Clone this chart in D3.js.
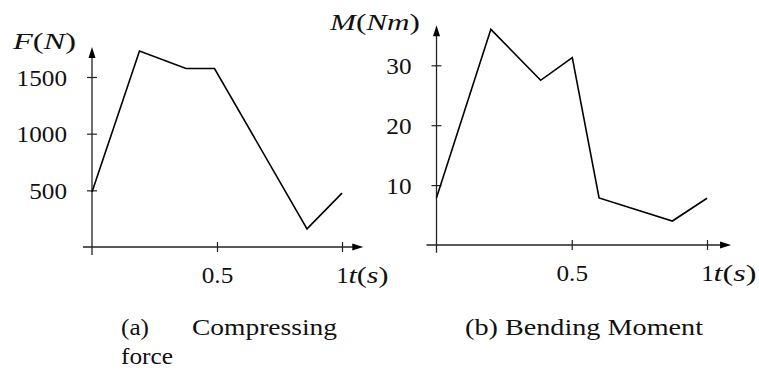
<!DOCTYPE html>
<html>
<head>
<meta charset="utf-8">
<script src="https://cdn.jsdelivr.net/npm/d3@7"></script>
<style>
  body { margin: 0; background: #fff; }
  text { font-family: "Liberation Serif", "Times New Roman", serif; font-size: 24px; fill: #111; }
</style>
</head>
<body>
<div id="chart"></div>
<script>
// data
var forceTime = [0, 0.19, 0.376, 0.49, 0.86, 1.0];
var forceValue = [485, 1730, 1575, 1575, 160, 475];
var momentTime = [0, 0.201, 0.385, 0.502, 0.601, 0.872, 1.0];
var momentValue = [7.9, 36.0, 27.5, 31.3, 7.85, 4.0, 7.8];

var forceTicks = [500, 1000, 1500];
var momentTicks = [10, 20, 30];
var timeTicks = [0.5, 1];

var svg = d3.select("#chart")
  .append("svg")
  .attr("width", 759)
  .attr("height", 371)
  .style("background", "#fff");

// horizontal stretch so the Times glyphs get closer to the wider TeX font
function stretch(sel, k) {
  sel.each(function () {
    var w = this.getComputedTextLength();
    d3.select(this).attr("textLength", w * k).attr("lengthAdjust", "spacingAndGlyphs");
  });
}

function arrowUp(x, y) {
  return "M" + x + "," + y + "L" + (x - 3.5) + "," + (y + 11) + "L" + (x + 3.5) + "," + (y + 11) + "Z";
}
function arrowRight(x, y) {
  return "M" + x + "," + y + "L" + (x - 11) + "," + (y - 3.5) + "L" + (x - 11) + "," + (y + 3.5) + "Z";
}

function drawPanel(p) {
  var g = svg.append("g");
  var x0 = p.x(0), y0 = p.y(0);

  // axis lines with arrow heads
  g.append("line")
    .attr("x1", p.x(p.xLo)).attr("x2", p.x(p.xHi) - 9)
    .attr("y1", y0).attr("y2", y0)
    .attr("stroke", "#222").attr("stroke-width", 1.3);
  g.append("path").attr("d", arrowRight(p.x(p.xHi), y0)).attr("fill", "#000");

  g.append("line")
    .attr("x1", x0).attr("x2", x0)
    .attr("y1", p.y(p.yLo)).attr("y2", p.y(p.yHi) + 9)
    .attr("stroke", "#222").attr("stroke-width", 1.3);
  g.append("path").attr("d", arrowUp(x0, p.y(p.yHi))).attr("fill", "#000");

  // y axis ticks + labels
  var ya = g.append("g")
    .attr("transform", "translate(" + x0 + ",0)")
    .call(d3.axisLeft(p.y).tickValues(p.yTicks).tickSize(5).tickPadding(20).tickFormat(d3.format("d")));
  ya.select(".domain").remove();
  ya.selectAll("line").attr("x1", -5).attr("x2", 5).attr("stroke", "#222").attr("stroke-width", 1.2);
  ya.selectAll("text").attr("dy", "0.34em");
  ya.attr("font-size", null).attr("font-family", null);
  stretch(ya.selectAll("text"), 1.05);

  // x axis ticks + labels
  var xa = g.append("g")
    .attr("transform", "translate(0," + y0 + ")")
    .call(d3.axisBottom(p.x).tickValues(timeTicks).tickSize(5).tickFormat(function (d) { return d == 1 ? "1" : d; }));
  xa.select(".domain").remove();
  xa.selectAll("line").attr("y1", -5).attr("y2", 5).attr("stroke", "#222").attr("stroke-width", 1.2);
  xa.selectAll("text").attr("y", 36).attr("dy", 0);
  xa.attr("font-size", null).attr("font-family", null);
  stretch(xa.selectAll("text"), 1.05);

  // t(s) after the "1"
  var ts = g.append("text")
    .attr("x", p.x(1) + 6.5)
    .attr("y", y0 + 36)
    .attr("textLength", p.tsWidth)
    .attr("lengthAdjust", "spacingAndGlyphs");
  ts.append("tspan").attr("font-style", "italic").text("t");
  ts.append("tspan").text("(");
  ts.append("tspan").attr("font-style", "italic").text("s");
  ts.append("tspan").text(")");

  // y title
  var yt = g.append("text")
    .attr("x", p.titleX)
    .attr("y", p.titleY)
    .attr("textLength", p.titleW)
    .attr("lengthAdjust", "spacingAndGlyphs");
  p.title.forEach(function (part) {
    yt.append("tspan").attr("font-style", part[1] ? "italic" : "normal").text(part[0]);
  });

  // the curve
  var line = d3.line()
    .x(function (d) { return p.x(d[0]); })
    .y(function (d) { return p.y(d[1]); });
  g.append("path")
    .datum(d3.zip(p.t, p.v))
    .attr("d", line)
    .attr("fill", "none")
    .attr("stroke", "#000")
    .attr("stroke-width", 1.6);
}

drawPanel({
  x: d3.scaleLinear().domain([0, 1]).range([92, 342]),
  y: d3.scaleLinear().domain([0, 1500]).range([247, 77]),
  xLo: -0.036, xHi: 1.085, yLo: -70, yHi: 1765,
  yTicks: forceTicks,
  t: forceTime, v: forceValue,
  tsWidth: 40,
  title: [["F", true], ["(", false], ["N", true], [")", false]],
  titleX: 13, titleY: 49, titleW: 63
});

drawPanel({
  x: d3.scaleLinear().domain([0, 1]).range([436.5, 707]),
  y: d3.scaleLinear().domain([0, 30]).range([245, 65.3]),
  xLo: -0.037, xHi: 1.089, yLo: -1.3, yHi: 36.7,
  yTicks: momentTicks,
  t: momentTime, v: momentValue,
  tsWidth: 43,
  title: [["M", true], ["(", false], ["Nm", true], [")", false]],
  titleX: 330, titleY: 30, titleW: 90
});

// sub captions
svg.append("text").attr("x", 121).attr("y", 335).attr("textLength", 28).attr("lengthAdjust", "spacingAndGlyphs").text("(a)");
svg.append("text").attr("x", 192).attr("y", 335).attr("textLength", 145).attr("lengthAdjust", "spacingAndGlyphs").text("Compressing");
svg.append("text").attr("x", 121).attr("y", 364).attr("textLength", 52).attr("lengthAdjust", "spacingAndGlyphs").text("force");
svg.append("text").attr("x", 465).attr("y", 335).attr("textLength", 238).attr("lengthAdjust", "spacingAndGlyphs").text("(b) Bending Moment");
</script>
</body>
</html>
